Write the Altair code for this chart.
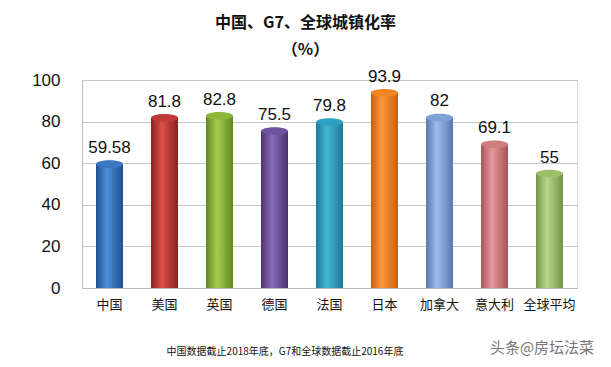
import altair as alt
import pandas as pd

categories = ["中国", "美国", "英国", "德国", "法国", "日本", "加拿大", "意大利", "全球平均"]
values = [59.58, 81.8, 82.8, 75.5, 79.8, 93.9, 82, 69.1, 55]
labels = ["59.58", "81.8", "82.8", "75.5", "79.8", "93.9", "82", "69.1", "55"]
# (dark edge, highlight, cap) per bar
palettes = [
    ("#1F4F8F", "#4D8FD6", "#3A78C0"),
    ("#8E1F1F", "#D9534A", "#C23A35"),
    ("#5F8A22", "#A6CC4E", "#8DB83A"),
    ("#4B336F", "#8A6BB8", "#6E54A0"),
    ("#1A7A93", "#45B8D6", "#2EA2C4"),
    ("#C45F10", "#FF9A3A", "#F28424"),
    ("#5878AE", "#9DBCEB", "#7FA1D6"),
    ("#A85357", "#E3999C", "#D07D81"),
    ("#739443", "#B8D78C", "#9CC06A"),
]

df = pd.DataFrame({"cat": categories, "val": values, "lab": labels})

x_enc = alt.X("cat:N", sort=categories, title=None,
              scale=alt.Scale(paddingInner=0.5, paddingOuter=0.25),
              axis=alt.Axis(labelAngle=0, labelFontSize=13, labelFont="Noto Sans CJK SC",
                            labelColor="#111", labelPadding=10, ticks=False,
                            domainColor="#BBBBBB", grid=False))
y_enc = alt.Y("val:Q", title=None,
              scale=alt.Scale(domain=[0, 100]),
              axis=alt.Axis(values=[0, 20, 40, 60, 80, 100], labelFontSize=17,
                            labelFont="Liberation Sans", labelColor="#111",
                            labelPadding=22, ticks=False, domainColor="#BBBBBB",
                            gridColor="#C8C8C8", gridWidth=1))

layers = []
for c, (dark, light, cap) in zip(categories, palettes):
    grad = alt.Gradient(gradient="linear", x1=0, x2=1, y1=0, y2=0,
                        stops=[alt.GradientStop(offset=0, color=dark),
                               alt.GradientStop(offset=0.4, color=light),
                               alt.GradientStop(offset=1, color=dark)])
    bar = alt.Chart(df).transform_filter(alt.datum.cat == c).mark_bar(
        color=grad, size=27).encode(x=x_enc, y=y_enc)
    top = alt.Chart(df).transform_filter(alt.datum.cat == c).mark_point(
        shape="M -1 0 A 1 0.28 0 1 0 1 0 A 1 0.28 0 1 0 -1 0",
        filled=True, color=cap, opacity=1, size=729).encode(x=x_enc, y="val:Q")
    layers += [bar, top]

text = alt.Chart(df).mark_text(dy=-16, fontSize=17, font="Liberation Sans",
                               color="#111").encode(x=x_enc, y="val:Q", text="lab:N")

note = alt.Chart(pd.DataFrame({"t": ["中国数据截止2018年底，G7和全球数据截止2016年底"]})).mark_text(
    fontSize=10, font="Noto Sans CJK SC", color="#111").encode(
    x=alt.value(203), y=alt.value(272), text="t:N")
mark_wm = alt.Chart(pd.DataFrame({"t": ["头条@房坛法菜"]})).mark_text(
    fontSize=15, font="Noto Sans CJK SC", color="#777").encode(
    x=alt.value(460), y=alt.value(268), text="t:N")

chart = alt.layer(*layers, text, note, mark_wm).properties(
    width=495, height=208,
    autosize=alt.AutoSizeParams(type="none"),
    padding={"left": 74, "top": 72, "right": 20, "bottom": 76},
    title=alt.TitleParams(["中国、G7、全球城镇化率", "（%）"], fontSize=16,
                          font="Noto Sans CJK SC", fontWeight="bold", color="#111",
                          anchor="middle", dx=-24, offset=10, lineHeight=27),
).configure_view(stroke=None).configure(background="white")

chart.save("out.html", embed_options={"renderer": "svg", "actions": False})
